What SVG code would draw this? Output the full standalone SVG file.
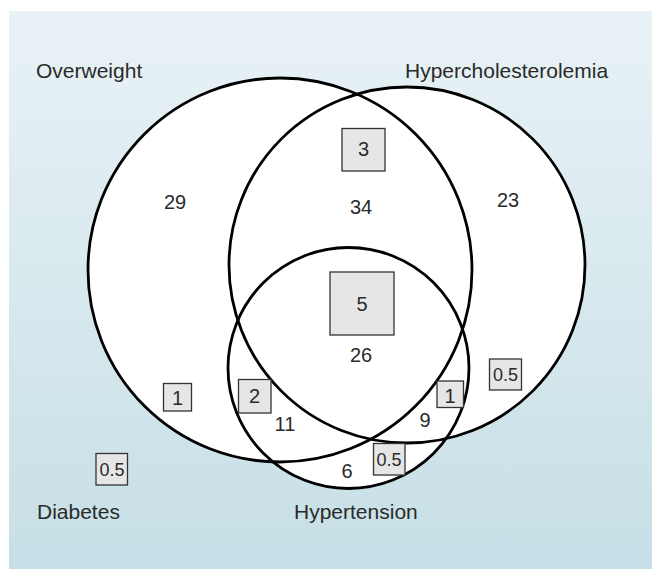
<svg xmlns="http://www.w3.org/2000/svg" width="652" height="569" viewBox="0 0 652 569">
  <defs>
    <linearGradient id="bg" x1="0" y1="0" x2="0" y2="1">
      <stop offset="0" stop-color="#e9f2f6"/>
      <stop offset="1" stop-color="#c6dfe6"/>
    </linearGradient>
  </defs>
  <style>
    .ring { fill: none; stroke: #000; stroke-width: 2.8; }
    .fillw { fill: #fff; stroke: none; }
    .box { fill: #e6e6e6; stroke: #333; stroke-width: 1.3; }
    .lbl { font-family: "Liberation Sans", Arial, sans-serif; font-size: 21px; fill: #2a2a2a; }
    .num { font-family: "Liberation Sans", Arial, sans-serif; font-size: 20px; fill: #2a2a2a; text-anchor: middle; }
    .sm { font-family: "Liberation Sans", Arial, sans-serif; font-size: 18px; fill: #2a2a2a; text-anchor: middle; }
  </style>
  <rect x="0" y="0" width="652" height="569" fill="#fff"/>
  <rect x="9" y="11" width="643" height="558" fill="url(#bg)"/>

  <g id="fills">
    <circle class="fillw" cx="280" cy="270" r="192"/>
    <circle class="fillw" cx="407" cy="265" r="178"/>
    <circle class="fillw" cx="348.5" cy="368" r="120.5"/>
  </g>

  <g id="set-overweight">
    <circle class="ring" cx="280" cy="270" r="192"/>
    <text class="lbl" x="36" y="78">Overweight</text>
  </g>
  <g id="set-hypercholesterolemia">
    <circle class="ring" cx="407" cy="265" r="178"/>
    <text class="lbl" x="405" y="78">Hypercholesterolemia</text>
  </g>
  <g id="set-hypertension">
    <circle class="ring" cx="348.5" cy="368" r="120.5"/>
    <text class="lbl" x="294" y="519">Hypertension</text>
  </g>
  <g id="set-diabetes">
    <text class="lbl" x="37" y="519">Diabetes</text>
  </g>

  <g id="connectors"></g>

  <g id="n-29"><text class="num" x="175" y="209">29</text></g>
  <g id="n-34"><text class="num" x="361" y="214">34</text></g>
  <g id="n-23"><text class="num" x="508" y="207">23</text></g>
  <g id="n-26"><text class="num" x="361" y="362">26</text></g>
  <g id="n-11"><text class="num" x="285" y="431">11</text></g>
  <g id="n-9"><text class="num" x="425" y="427">9</text></g>
  <g id="n-6"><text class="num" x="347" y="478">6</text></g>

  <g id="box-3">
    <rect class="box" x="342" y="128.5" width="43" height="42.5"/>
    <text class="num" x="363.5" y="156">3</text>
  </g>
  <g id="box-5">
    <rect class="box" x="330" y="272" width="64" height="63"/>
    <text class="num" x="362" y="311">5</text>
  </g>
  <g id="box-1-left">
    <rect class="box" x="163.5" y="383.5" width="28" height="27.5"/>
    <text class="num" x="177.5" y="405">1</text>
  </g>
  <g id="box-2">
    <rect class="box" x="238.5" y="379.5" width="32.5" height="33.5"/>
    <text class="num" x="254.5" y="403">2</text>
  </g>
  <g id="box-1-right">
    <rect class="box" x="437" y="381" width="26.5" height="26.5"/>
    <text class="num" x="450" y="403">1</text>
  </g>
  <g id="box-05-right">
    <rect class="box" x="489.5" y="359" width="32" height="31"/>
    <text class="sm" x="505.5" y="381">0.5</text>
  </g>
  <g id="box-05-bottom">
    <rect class="box" x="373.5" y="443.5" width="31.5" height="31.5"/>
    <text class="sm" x="389" y="466">0.5</text>
  </g>
  <g id="box-05-diabetes">
    <rect class="box" x="96" y="453.5" width="31.5" height="31.5"/>
    <text class="sm" x="112" y="476">0.5</text>
  </g>
</svg>
